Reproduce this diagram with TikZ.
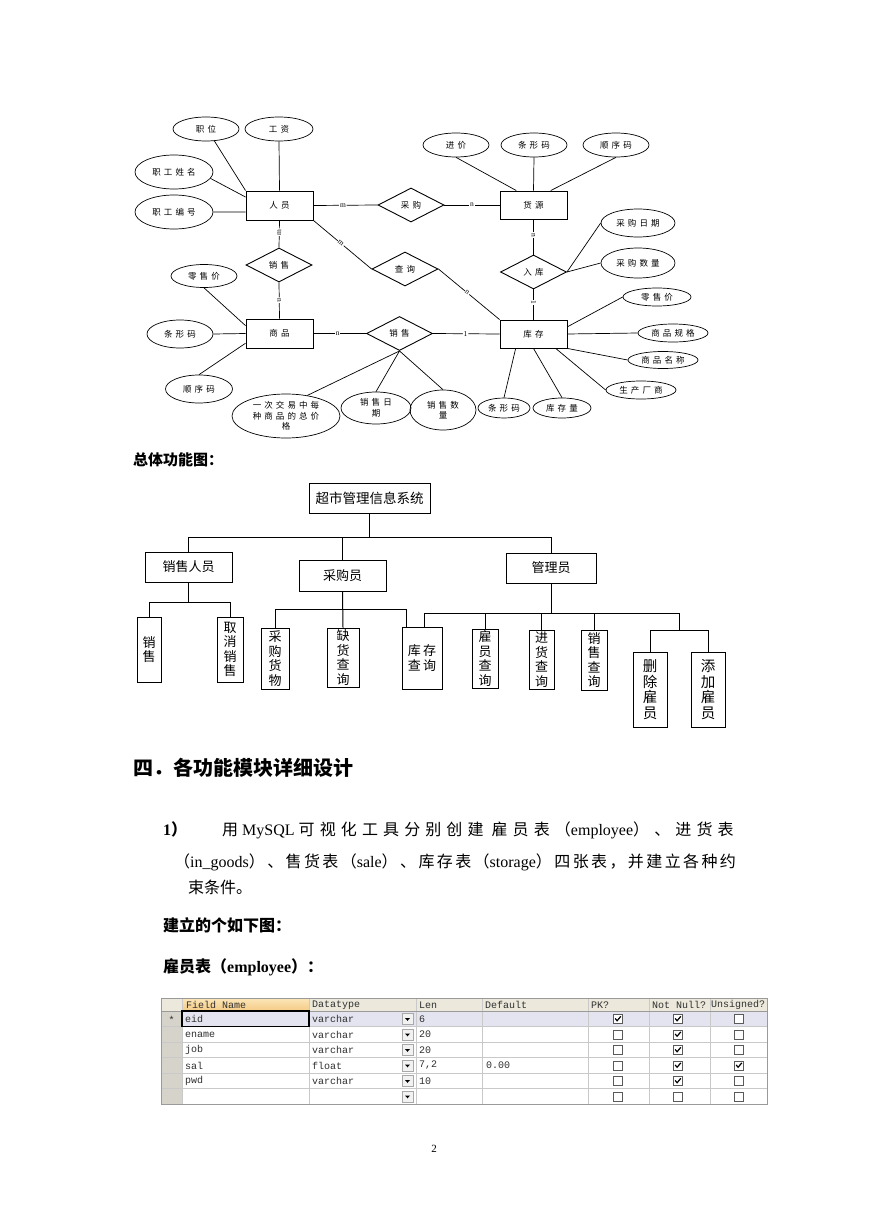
\documentclass[tikz,border=0pt]{standalone}
\usepackage{fontspec}
\setmainfont{Liberation Serif}
\setmonofont{Liberation Mono}
\newfontfamily\cjk{Noto Sans CJK SC}
\newfontfamily\ercjk{Noto Sans CJK SC}[LetterSpace=36]
\usetikzlibrary{shapes.geometric,calc}
\newcommand\zhsp[2]{{\cjk\addfontfeature{LetterSpace=#1}#2}}
\definecolor{hdrgray}{HTML}{ECE9DC}
\definecolor{fnhdrA}{HTML}{FCE6B8}
\definecolor{fnhdrB}{HTML}{F4CB86}
\definecolor{indgray}{HTML}{D6D3CA}
\definecolor{selrow}{HTML}{E4E4F0}
\definecolor{gridgray}{HTML}{C9C9C9}
\definecolor{bordergray}{HTML}{9A9A9A}
\definecolor{celltext}{HTML}{303030}
\definecolor{boxgray}{HTML}{5A5A5A}
\definecolor{btnfill}{HTML}{F2F2F2}
\definecolor{btnborder}{HTML}{A8A8A8}
\tikzset{
  every node/.style={inner sep=0pt},
  entity/.style={draw, line width=0.9pt, minimum width=67pt, minimum height=29pt, font=\ercjk\fontsize{8.5}{10}\selectfont},
  relation/.style={draw, diamond, line width=0.9pt, minimum width=66pt, minimum height=34pt, font=\ercjk\fontsize{8.5}{10}\selectfont},
  attr/.style={draw, ellipse, line width=0.7pt, align=center, font=\ercjk\fontsize{8.5}{10.5}\selectfont},
  card/.style={fill=white, inner sep=0.8pt, sloped, font=\fontsize{7.5}{8}\selectfont},
  erline/.style={line width=0.7pt},
  fbox/.style={draw, line width=1pt, align=center, font=\cjk\fontsize{13}{14.5}\selectfont},
  tline/.style={line width=1pt},
  cell/.style={anchor=west, text=celltext, font=\ttfamily\fontsize{10}{11}\selectfont},
}
\begin{document}
\begin{tikzpicture}[x=1pt,y=-1pt]
    \fill[white] (0,0) rectangle (869,1228);
    \useasboundingbox (0,0) rectangle (869,1228);

    % E-R图：实体
    \node[entity] (renyuan) at (279.5,205.5) {人员};
    \node[entity, minimum height=28pt] (huoyuan) at (533.5,205) {货源};
    \node[entity] (shangpin) at (279.5,333.5) {商品};
    \node[entity, minimum height=28pt] (kucun) at (533.5,334) {库存};

    % 联系
    \node[relation] (caigou) at (411,205) {采购};
    \node[relation] (xiaoshouA) at (279,265) {销售};
    \node[relation] (chaxun) at (405,269) {查询};
    \node[relation] (ruku) at (533.5,272) {入库};
    \node[relation] (xiaoshouB) at (399.5,333.5) {销售};

    % 属性
    \node[attr, minimum width=66pt, minimum height=24pt] (zhiwei) at (206,129) {职位};
    \node[attr, minimum width=68pt, minimum height=24pt] (gongzi) at (279,129) {工资};
    \node[attr, minimum width=78pt, minimum height=34pt] (xingming) at (174,172) {职工姓名};
    \node[attr, minimum width=78pt, minimum height=34pt] (bianhao) at (174,212) {职工编号};
    \node[attr, minimum width=66pt, minimum height=24pt] (jinjia) at (456,145) {进价};
    \node[attr, minimum width=66pt, minimum height=24pt] (tiaoxingA) at (534,145) {条形码};
    \node[attr, minimum width=66pt, minimum height=24pt] (shunxuA) at (616,145) {顺序码};
    \node[attr, minimum width=74pt, minimum height=28pt] (cgriqi) at (638,223) {采购日期};
    \node[attr, minimum width=74pt, minimum height=30pt] (cgshuliang) at (638,263) {采购数量};
    \node[attr, minimum width=66pt, minimum height=23pt] (lingshouA) at (204,276) {零售价};
    \node[attr, minimum width=66pt, minimum height=28pt] (tiaoxingB) at (180,334) {条形码};
    \node[attr, minimum width=67pt, minimum height=28pt] (shunxuB) at (199,389) {顺序码};
    \node[attr, minimum width=108pt, minimum height=44pt] (zongjia) at (286,416) {一次交易中每\\种商品的总价\\格};
    \node[attr, minimum width=70pt, minimum height=32pt] (xsriqi) at (376,408) {销售日\\期};
    \node[attr, minimum width=66pt, minimum height=40pt] (xsshuliang) at (443,410) {销售数\\量};
    \node[attr, minimum width=52pt, minimum height=20pt] (tiaoxingC) at (504,408) {条形码};
    \node[attr, minimum width=58pt, minimum height=20pt] (kucunliang) at (562,408) {库存量};
    \node[attr, minimum width=68pt, minimum height=18pt] (lingshouB) at (657,297) {零售价};
    \node[attr, minimum width=70pt, minimum height=18pt] (guige) at (673,333) {商品规格};
    \node[attr, minimum width=70pt, minimum height=17pt] (mingcheng) at (663,360) {商品名称};
    \node[attr, minimum width=70pt, minimum height=18pt] (changshang) at (641,390) {生产厂商};

    % 属性连线
    \draw[erline] (zhiwei.-55) -- (renyuan.north west);
    \draw[erline] (gongzi.south) -- (renyuan.north);
    \draw[erline] (xingming.-10) -- (renyuan.166);
    \draw[erline] (bianhao.east) -- (renyuan.191);
    \draw[erline] (jinjia.south) -- (huoyuan.140);
    \draw[erline] (tiaoxingA.south) -- (huoyuan.north);
    \draw[erline] (shunxuA.south) -- (huoyuan.40);
    \draw[erline] (ruku.east) -- (cgriqi.west);
    \draw[erline] (ruku.east) -- (cgshuliang.west);
    \draw[erline] (lingshouA.south) -- (shangpin.167);
    \draw[erline] (tiaoxingB.east) -- (shangpin.west);
    \draw[erline] (shunxuB.north) -- (shangpin.196);
    \draw[erline] (xiaoshouB.south) -- (zongjia.44);
    \draw[erline] (xiaoshouB.south) -- (xsriqi.north);
    \draw[erline] (xiaoshouB.south) -- (xsshuliang.north);
    \draw[erline] (kucun.219) -- (tiaoxingC.north);
    \draw[erline] (kucun.south) -- (kucunliang.north);
    \draw[erline] (kucun.12) -- (lingshouB.west);
    \draw[erline] (kucun.east) -- (guige.west);
    \draw[erline] (kucun.south east) -- (mingcheng.west);
    \draw[erline] (kucun.-33) -- (changshang.west);

    % 联系连线
    \draw[erline] (renyuan.east) -- node[card, pos=0.46] {m} (caigou.west);
    \draw[erline] (caigou.east) -- node[card, pos=0.5] {n} (huoyuan.west);
    \draw[erline] (renyuan.south) -- node[card, pos=0.43] {m} (xiaoshouA.north);
    \draw[erline] (renyuan.south east) -- node[card, pos=0.47] {m} (chaxun.west);
    \draw[erline] (chaxun.east) -- node[card, pos=0.47] {n} (kucun.north west);
    \draw[erline] (huoyuan.south) -- node[card, pos=0.44] {n} (ruku.north);
    \draw[erline] (ruku.south) -- node[card, pos=0.43] {1} (kucun.north);
    \draw[erline] (xiaoshouA.south) -- node[card, pos=0.49] {n} (shangpin.north);
    \draw[erline] (shangpin.east) -- node[card, pos=0.46] {n} (xiaoshouB.west);
    \draw[erline] (xiaoshouB.east) -- node[card, pos=0.49] {1} (kucun.west);

    % 总体功能图
    \node[anchor=base west, font=\cjk\bfseries\fontsize{15}{18}\selectfont] (zttitle) at (133,465) {总体功能图：};

    \node[fbox, minimum width=121pt, minimum height=30pt, font=\cjk\fontsize{13.5}{15}\selectfont] (root) at (369.5,498) {超市管理信息系统};
    \node[fbox, minimum width=87pt, minimum height=30pt] (salesp) at (188.5,567) {销售人员};
    \node[fbox, minimum width=87pt, minimum height=31pt] (buyer) at (342.5,575.5) {采购员};
    \node[fbox, minimum width=90pt, minimum height=30pt] (admin) at (551,568) {管理员};

    \node[fbox, minimum width=24pt, minimum height=65pt] (xs) at (149,649.5) {销\\售};
    \node[fbox, minimum width=26pt, minimum height=65pt] (qxxs) at (230,649.5) {取\\消\\销\\售};
    \node[fbox, minimum width=28pt, minimum height=61pt] (cghw) at (275,658.5) {采\\购\\货\\物};
    \node[fbox, minimum width=32pt, minimum height=59pt] (qhcx) at (343,657.5) {缺\\货\\查\\询};
    \node[fbox, minimum width=40pt, minimum height=62pt] (kccx) at (422,658) {库\,存\\查\,询};
    \node[fbox, minimum width=26pt, minimum height=59pt] (gycx) at (485,658.5) {雇\\员\\查\\询};
    \node[fbox, minimum width=25pt, minimum height=59pt] (jhcx) at (541.5,659.5) {进\\货\\查\\询};
    \node[fbox, minimum width=26pt, minimum height=60pt] (xscx) at (594,660) {销\\售\\查\\询};
    \node[fbox, minimum width=34pt, minimum height=75pt, font=\cjk\fontsize{14.5}{15.5}\selectfont] (scgy) at (650,689.5) {删\\除\\雇\\员};
    \node[fbox, minimum width=34pt, minimum height=75pt, font=\cjk\fontsize{14.5}{15.5}\selectfont] (tjgy) at (708,689.5) {添\\加\\雇\\员};

    % 连线
    \coordinate (busA) at (0,537);
    \coordinate (busB) at (0,602);
    \coordinate (busC) at (0,609);
    \coordinate (busD) at (0,613);
    \coordinate (busE) at (0,630);
    \coordinate (kcA) at ([xshift=5pt]kccx.north west);
    \coordinate (kcB) at ([xshift=23pt]kccx.north west);
    \coordinate (gyMid) at ($(scgy.north)!0.5!(tjgy.north)$);
    \draw[tline] (root.south) -- (root.south |- busA);
    \draw[tline] (salesp.north) |- (admin.north |- busA) -- (admin.north);
    \draw[tline] (buyer.north) -- (buyer.north |- busA);
    \draw[tline] (salesp.south) -- (salesp.south |- busB);
    \draw[tline] (xs.north) |- (qxxs.north |- busB) -- (qxxs.north);
    \draw[tline] (buyer.south) -- (qhcx.north);
    \draw[tline] (cghw.north) |- (kcA |- busC) -- (kcA);
    \draw[tline] (admin.south) -- (admin.south |- busD);
    \draw[tline] (kcB) |- (gyMid |- busD) -- (gyMid |- busE);
    \draw[tline] (gycx.north) -- (gycx.north |- busD);
    \draw[tline] (jhcx.north) -- (jhcx.north |- busD);
    \draw[tline] (xscx.north) -- (xscx.north |- busD);
    \draw[tline] (scgy.north) |- (tjgy.north |- busE) -- (tjgy.north);

    % 正文
    \node[anchor=base west, font=\cjk\bfseries\fontsize{20}{24}\selectfont] (sec4) at (133,775) {四．各功能模块详细设计};
    \node[anchor=base west, font=\bfseries\fontsize{16}{19}\selectfont] (num1) at (163,835) {1{\cjk\bfseries ）}};
    \node[anchor=base west, font=\fontsize{16}{19}\selectfont] (lineA) at (222,835)
      {\zhsp{32}{用} MySQL \zhsp{32}{可视化工具分别创建}\ \ \zhsp{32}{雇员表（}employee\zhsp{32}{）、进货表}};
    \node[anchor=base west, font=\fontsize{16}{19}\selectfont] (lineB) at (174,867)
      {\zhsp{15}{（}in\_goods\zhsp{15}{）、售货表（}sale\zhsp{15}{）、库存表（}storage\zhsp{15}{）四张表，并建立各种约}};
    \node[anchor=base west, font=\fontsize{16}{19}\selectfont] (lineC) at (188,893) {\zhsp{0}{束条件。}};
    \node[anchor=base west, font=\cjk\bfseries\fontsize{16}{19}\selectfont] (jianli) at (163,931) {建立的个如下图：};
    \node[anchor=base west, font=\bfseries\fontsize{16}{19}\selectfont] (gybiao) at (163,972)
      {{\cjk\bfseries 雇员表（}employee{\cjk\bfseries ）：}};

    % 雇员表
    \fill[hdrgray] (161,998) rectangle (767,1011);
    \shade[top color=fnhdrA, bottom color=fnhdrB] (182,998) rectangle (309,1011);
    \fill[indgray] (161,1011) rectangle (182,1104);
    \fill[selrow] (182,1011) rectangle (767,1026.5);
    \foreach \y in {1026.5,1042,1057.5,1073,1088.5}
        \draw[gridgray] (161,\y) -- (767,\y);
    \foreach \x in {182,309,416,482,588,649,710}
        \draw[gridgray] (\x,998) -- (\x,1104);
    \draw[bordergray] (161,1011) -- (767,1011);
    \draw[bordergray] (161,998) rectangle (767,1104);
    \draw[line width=1.5pt] (182,1011) rectangle (309,1026.5);

    \foreach \x/\t [count=\i] in {186/Field Name,312/Datatype,419/Len,485/Default,591/PK?,652/Not Null?,711/Unsigned?}
        \node[cell] (h\i) at (\x,1005) {\t};
    \node[cell, anchor=center] (star) at (171.5,1020) {*};

    \foreach \f/\t/\l/\d [count=\i] in {eid/varchar/6/{},ename/varchar/20/{},job/varchar/20/{},sal/float/{7,2}/0.00,pwd/varchar/10/{},{}/{}/{}/{}} {
        \pgfmathsetmacro\ry{1011+15.5*(\i-1)+8}
        \node[cell] (f\i) at (185,\ry) {\f};
        \node[cell] (t\i) at (312,\ry) {\t};
        \node[cell] (l\i) at (419,\ry) {\l};
        \node[cell] (d\i) at (486,\ry) {\d};
        \draw[btnborder, fill=btnfill] (402,\ry-5.5) rectangle (413,\ry+5.5);
        \fill (405,\ry-1) -- (410,\ry-1) -- (407.5,\ry+1.8) -- cycle;
    }

    % 复选框
    \foreach \pk/\nn/\un [count=\i] in {1/1/0,0/1/0,0/1/0,0/1/1,0/1/0,0/0/0} {
        \pgfmathsetmacro\ry{1011+15.5*(\i-1)+7.75}
        \foreach \v/\cx in {\pk/618,\nn/678,\un/739} {
            \draw[boxgray, fill=white] (\cx-4.5,\ry-4.5) rectangle (\cx+4.5,\ry+4.5);
            \ifnum\v=1 \draw[line width=1.2pt] (\cx-2.8,\ry-0.3) -- (\cx-0.9,\ry+2) -- (\cx+2.8,\ry-2.4); \fi
        }
    }

    % 页码
    \node[anchor=base, font=\fontsize{11}{13}\selectfont] (page) at (434,1152) {2};
\end{tikzpicture}
\end{document}
